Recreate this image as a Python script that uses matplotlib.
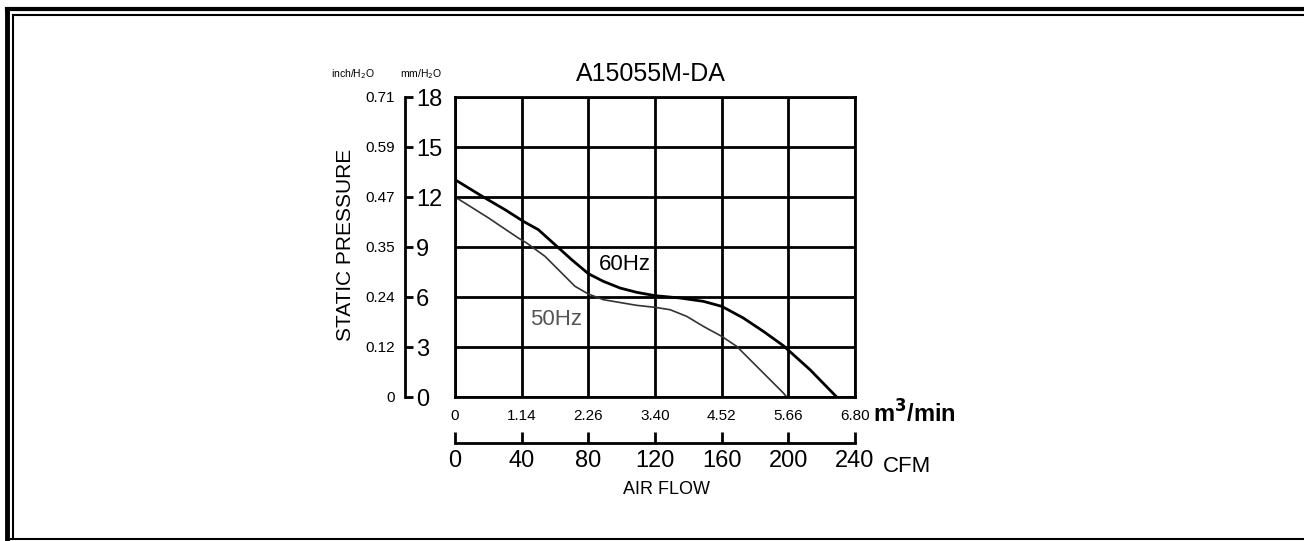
import numpy as np
import matplotlib.pyplot as plt
from matplotlib.lines import Line2D

# data (CFM vs mm H2O)
cfm_60hz = [0, 17, 30, 41, 50, 60, 70, 80, 89, 99, 109, 120, 135, 149, 160, 173, 185, 197, 213, 229]
mmh2o_60hz = [13.04, 12.0, 11.24, 10.54, 10.04, 9.14, 8.24, 7.4, 6.94, 6.54, 6.28, 6.08, 5.94, 5.74,
              5.44, 4.74, 3.94, 3.08, 1.64, 0.0]

cfm_50hz = [0, 2, 20, 38, 43, 54, 64, 72, 80, 89, 109, 120, 129, 139, 149, 160, 169, 181, 197, 199]
mmh2o_50hz = [11.95, 11.88, 10.75, 9.54, 9.24, 8.44, 7.44, 6.64, 6.18, 5.84, 5.5, 5.38, 5.24, 4.84,
              4.24, 3.64, 3.04, 1.84, 0.24, 0.0]

cfm_ticks = [0, 40, 80, 120, 160, 200, 240]
m3min_labels = ['0', '1.14', '2.26', '3.40', '4.52', '5.66', '6.80']
mm_ticks = [0, 3, 6, 9, 12, 15, 18]
inch_labels = ['0', '0.12', '0.24', '0.35', '0.47', '0.59', '0.71']

plt.rcParams['font.family'] = ['Liberation Sans', 'DejaVu Sans']

W, H = 1304, 541
fig = plt.figure(figsize=(W / 100, H / 100), dpi=100)


def fx(px):
    return px / W


def fy(py):
    return 1 - py / H


# main grid area
x0, x1, y0, y1 = 455, 855, 97, 397
ax = fig.add_axes([fx(x0), fy(y1), fx(x1 - x0), (y1 - y0) / H])
ax.plot(cfm_60hz, mmh2o_60hz, color='black', lw=2.0)
ax.plot(cfm_50hz, mmh2o_50hz, color='#333333', lw=1.2)
ax.set_xlim(0, 240)
ax.set_ylim(0, 18)
ax.set_xticks(cfm_ticks, labels=m3min_labels)
ax.set_yticks(mm_ticks, labels=[])
ax.tick_params(axis='both', length=0)
ax.tick_params(axis='x', pad=9, labelsize=11)
ax.grid(True, color='black', lw=2)
for sp in ax.spines.values():
    sp.set_linewidth(2)
ax.text(102, 7.96, '60Hz', ha='center', va='center', fontsize=16)
ax.text(60.6, 4.66, '50Hz', ha='center', va='center', fontsize=16, color='#555555')

# mm H2O axis with inch labels on the left
ax_mm = fig.add_axes([fx(405), fy(y1), 0, (y1 - y0) / H])
ax_mm.set_ylim(0, 18)
ax_mm.set_xticks([])
ax_mm.yaxis.tick_right()
ax_mm.set_yticks(mm_ticks, labels=[str(v) for v in mm_ticks])
ax_mm.tick_params(axis='y', direction='out', length=6, width=2, pad=2, labelsize=17)
for side in ['left', 'top', 'bottom']:
    ax_mm.spines[side].set_visible(False)
ax_mm.spines['right'].set_linewidth(2)
sec = ax_mm.secondary_yaxis('left')
sec.set_yticks(mm_ticks, labels=inch_labels)
sec.tick_params(length=0, pad=7, labelsize=11)
sec.spines['left'].set_visible(False)

# CFM scale
ax_cfm = fig.add_axes([fx(x0), fy(443), fx(x1 - x0), 0])
ax_cfm.set_xlim(0, 240)
ax_cfm.set_yticks([])
ax_cfm.set_xticks(cfm_ticks, labels=[str(v) for v in cfm_ticks])
ax_cfm.tick_params(axis='x', direction='in', length=8, width=2, pad=5, labelsize=17)
for side in ['left', 'top', 'right']:
    ax_cfm.spines[side].set_visible(False)
ax_cfm.spines['bottom'].set_linewidth(2)

# texts
fig.text(fx(651), fy(74), 'A15055M-DA', ha='center', va='center', fontsize=18)
fig.text(fx(353), fy(74), 'inch/H$_2$O', ha='center', va='center', fontsize=7.5)
fig.text(fx(421), fy(74), 'mm/H$_2$O', ha='center', va='center', fontsize=7.5)
fig.text(fx(345), fy(245), 'STATIC PRESSURE', ha='center', va='center',
         rotation=90, fontsize=15)
fig.text(fx(873), fy(414), r'm$^\mathbf{3}$/min', ha='left', va='center',
         fontsize=17, fontweight='bold')
fig.text(fx(883), fy(466), 'CFM', ha='left', va='center', fontsize=16)
fig.text(fx(666), fy(490), 'AIR FLOW', ha='center', va='center', fontsize=13)

# page frame
fig.add_artist(Line2D([fx(7), fx(7)], [fy(9), fy(539)], color='black', lw=3.5))
fig.add_artist(Line2D([fx(13), fx(13)], [fy(15), fy(539)], color='black', lw=1.5))
fig.add_artist(Line2D([fx(7), 1], [fy(9), fy(9)], color='black', lw=3.0))
fig.add_artist(Line2D([fx(13), 1], [fy(15), fy(15)], color='black', lw=1.5))
fig.add_artist(Line2D([fx(7), 1], [fy(539), fy(539)], color='black', lw=1.5))

fig.savefig('out.png', dpi=100)
